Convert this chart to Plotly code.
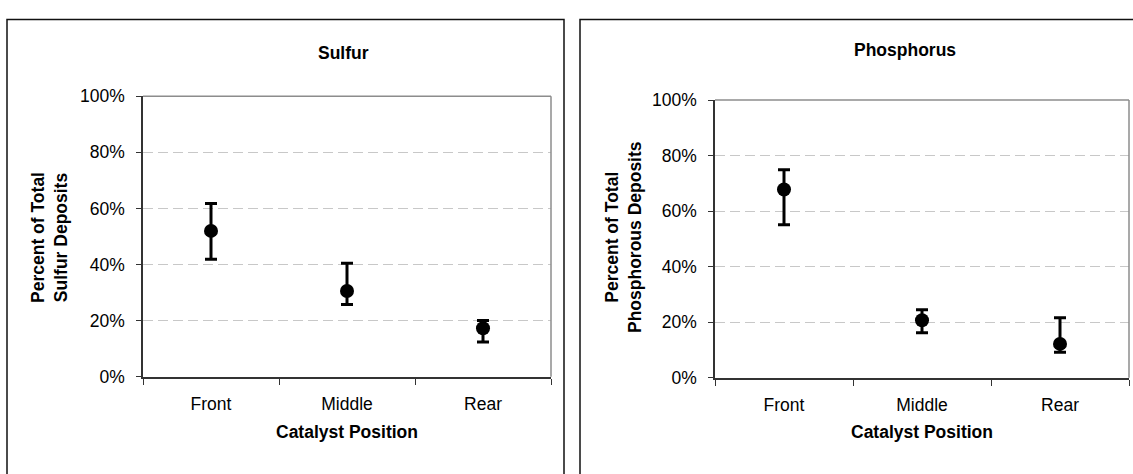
import plotly.graph_objects as go

# Catalyst positions along the converter
positions = ["Front", "Middle", "Rear"]

# Sulfur deposits: share of total (%), with lower/upper bounds of the range
sulfur_mean = [52.0, 30.6, 17.3]
sulfur_low = [41.9, 25.8, 12.4]
sulfur_high = [61.8, 40.5, 20.1]

# Phosphorus deposits: share of total (%), with lower/upper bounds of the range
phos_mean = [67.8, 20.7, 12.2]
phos_low = [55.1, 16.2, 9.2]
phos_high = [74.9, 24.5, 21.6]

y_ticks = [0, 20, 40, 60, 80, 100]

W, H = 1133, 474
FONT = "Liberation Sans, Arial, sans-serif"
FS = 17.5


def px_x(v):
    return v / W


def px_y(v):
    return 1 - v / H


def trace(means, lows, highs, xa, ya):
    return go.Scatter(
        x=positions,
        y=means,
        xaxis=xa,
        yaxis=ya,
        mode="markers",
        marker=dict(color="black", size=14, symbol="circle"),
        error_y=dict(
            type="data",
            symmetric=False,
            array=[h - m for h, m in zip(highs, means)],
            arrayminus=[m - l for m, l in zip(means, lows)],
            color="black",
            thickness=3,
            width=6,
        ),
        showlegend=False,
        hoverinfo="skip",
    )


fig = go.Figure()
fig.add_trace(trace(sulfur_mean, sulfur_low, sulfur_high, "x", "y"))
fig.add_trace(trace(phos_mean, phos_low, phos_high, "x2", "y2"))

# plot-area rectangles in pixels: (left, right, top, bottom)
areas = {"": (143, 551, 90, 383), "2": (715, 1129, 94, 384)}

layout = dict(
    width=W,
    height=H,
    margin=dict(l=0, r=0, t=0, b=0),
    paper_bgcolor="white",
    plot_bgcolor="white",
    font=dict(family=FONT, size=FS, color="black"),
    showlegend=False,
)

for sfx, (l, r, t, b) in areas.items():
    layout["xaxis" + sfx] = dict(
        domain=[px_x(l), px_x(r)],
        anchor="y" + sfx,
        type="category",
        categoryorder="array",
        categoryarray=positions,
        range=[-0.5, 2.5],
        tickson="boundaries",
        ticks="outside",
        ticklen=6,
        tickwidth=1.2,
        tickcolor="#333333",
        showline=True,
        linecolor="#333333",
        linewidth=1.5,
        showgrid=False,
        zeroline=False,
        tickfont=dict(family=FONT, size=FS, color="black"),
        ticklabelstandoff=10,
    )
    layout["yaxis" + sfx] = dict(
        domain=[px_y(b), px_y(t)],
        anchor="x" + sfx,
        range=[0, 100],
        tickvals=y_ticks,
        ticktext=[f"{v}%" for v in y_ticks],
        ticks="outside",
        ticklen=5,
        tickwidth=1.2,
        tickcolor="#333333",
        showline=True,
        linecolor="#333333",
        linewidth=1.5,
        showgrid=True,
        gridcolor="#c8c8c8",
        gridwidth=1,
        griddash="10px,5px",
        zeroline=False,
        tickfont=dict(family=FONT, size=FS, color="black"),
        ticklabelstandoff=8,
    )

shapes = []
# outer chart frames
for (l, r) in [(7, 564), (580, 1140)]:
    shapes.append(dict(type="rect", xref="paper", yref="paper",
                       x0=px_x(l), x1=px_x(r), y0=px_y(490), y1=px_y(10),
                       line=dict(color="#111111", width=1.5), layer="above"))
# light gray top/right edges of each plot area
for sfx, (l, r, t, b) in areas.items():
    shapes.append(dict(type="line", xref="paper", yref="paper",
                       x0=px_x(l), x1=px_x(r), y0=px_y(t), y1=px_y(t),
                       line=dict(color="#8c8c8c", width=1.5)))
    shapes.append(dict(type="line", xref="paper", yref="paper",
                       x0=px_x(r), x1=px_x(r), y0=px_y(t), y1=px_y(b),
                       line=dict(color="#8c8c8c", width=1.5)))
layout["shapes"] = shapes

bold = dict(family=FONT, size=FS, color="black", weight="bold")
annotations = []
labels = [
    ("Sulfur", 343, 45, 0),
    ("Phosphorus", 905, 42, 0),
    ("Catalyst Position", 347, 441, 0),
    ("Catalyst Position", 922, 441, 0),
    ("Percent of Total<br>Sulfur Deposits", 50, 238, -90),
    ("Percent of Total<br>Phosphorous Deposits", 623, 237, -90),
]
for text, x, y, ang in labels:
    annotations.append(dict(text=text, x=px_x(x), y=px_y(y), xref="paper", yref="paper",
                            xanchor="center", yanchor="middle", showarrow=False,
                            textangle=ang, font=bold, align="center"))
layout["annotations"] = annotations

fig.update_layout(**layout)
fig.write_html("out.html")
